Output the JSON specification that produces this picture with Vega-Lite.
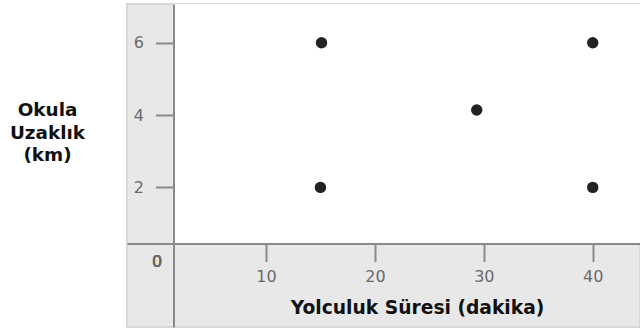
{
  "$schema": "https://vega.github.io/schema/vega-lite/v6.json",
  "width": 513,
  "height": 323,
  "autosize": {"type": "none"},
  "padding": {"left": 127, "top": 4, "right": 0, "bottom": 1},
  "background": "white",
  "config": {
    "view": {"fill": "#e8e8e8", "stroke": "#d8d8d8", "strokeWidth": 2},
    "font": "DejaVu Sans"
  },
  "data": {
    "values": [
      {"minutes": 15.1, "km": 6.0},
      {"minutes": 40.0, "km": 6.0},
      {"minutes": 29.35, "km": 4.14},
      {"minutes": 15.0, "km": 2.0},
      {"minutes": 40.0, "km": 2.0}
    ]
  },
  "layer": [
    {
      "mark": {"type": "rect", "fill": "white"},
      "encoding": {
        "x": {"datum": 1.5, "type": "quantitative", "scale": {"domain": [-2.76, 44.34], "nice": false, "zero": false}},
        "x2": {"datum": 44.34},
        "y": {"datum": 0.445, "type": "quantitative", "scale": {"domain": [-1.86, 7.07], "nice": false, "zero": false}},
        "y2": {"datum": 7.07}
      }
    },
    {
      "mark": {"type": "point", "filled": true, "size": 130, "color": "#222222", "opacity": 1},
      "encoding": {
        "x": {
          "field": "minutes",
          "type": "quantitative",
          "scale": {"domain": [-2.76, 44.34], "nice": false, "zero": false},
          "axis": {
            "offset": -83.5,
            "values": [10, 20, 30, 40],
            "grid": false,
            "domainColor": "#8a8a8a",
            "domainWidth": 2,
            "tickColor": "#8a8a8a",
            "tickWidth": 2,
            "tickSize": 18,
            "labelFont": "DejaVu Sans",
            "labelFontSize": 16,
            "labelColor": "#6a6a6a",
            "labelPadding": 7,
            "title": "Yolculuk Süresi (dakika)",
            "titleFont": "DejaVu Sans",
            "titleFontSize": 18.7,
            "titleFontWeight": "bold",
            "titleColor": "#111111",
            "titleX": 290,
            "titleY": 63.5,
            "titleAlign": "center",
            "titleBaseline": "middle",
            "zindex": 1
          }
        },
        "y": {
          "field": "km",
          "type": "quantitative",
          "scale": {"domain": [-1.86, 7.07], "nice": false, "zero": false},
          "axis": {
            "offset": -46.5,
            "values": [2, 4, 6],
            "grid": false,
            "domainColor": "#8a8a8a",
            "domainWidth": 2,
            "tickColor": "#8a8a8a",
            "tickWidth": 2,
            "tickSize": 18,
            "labelFont": "DejaVu Sans",
            "labelFontSize": 16,
            "labelColor": "#6a6a6a",
            "labelPadding": 12,
            "title": ["Okula", "Uzaklık", "(km)"],
            "titleFont": "DejaVu Sans",
            "titleFontSize": 18.4,
            "titleFontWeight": "bold",
            "titleColor": "#111111",
            "titleAngle": 0,
            "titleX": -126.5,
            "titleY": 105.5,
            "titleAlign": "center",
            "titleBaseline": "middle",
            "titleLineHeight": 22.5,
            "zindex": 1
          }
        }
      }
    },
    {
      "mark": {"type": "text", "fontSize": 16, "color": "#6a6a6a", "baseline": "middle", "align": "center", "font": "DejaVu Sans", "fontWeight": "normal"},
      "encoding": {
        "x": {"datum": 0, "type": "quantitative"},
        "y": {"datum": -0.06, "type": "quantitative"},
        "text": {"value": "0"}
      }
    }
  ]
}
